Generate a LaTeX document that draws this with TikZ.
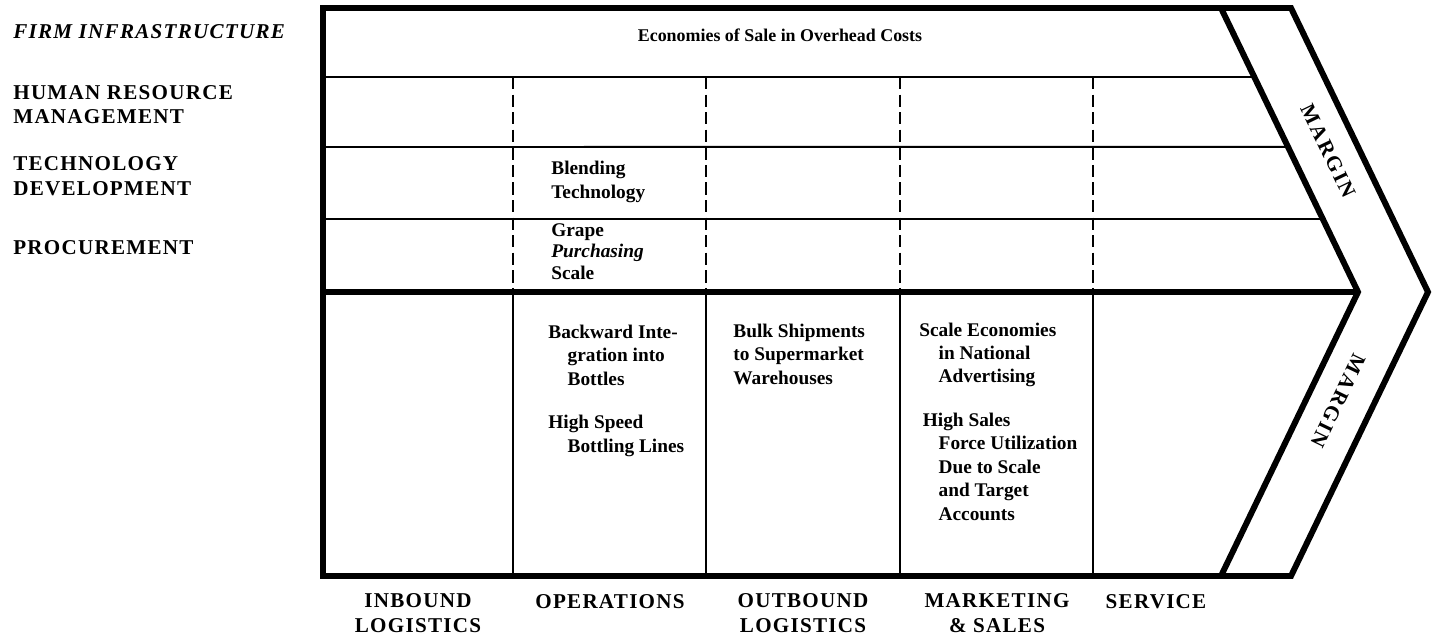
\documentclass[tikz,border=0pt]{standalone}
\usepackage{fontspec}
\setmainfont{Liberation Serif}
\newfontfamily\capsfont[LetterSpace=6]{Liberation Serif}
\newfontfamily\marginfont[LetterSpace=10]{Liberation Serif}
\usetikzlibrary{calc,positioning}
\tikzset{
  frame/.style={line width=3.4pt, line join=miter},  % outer chain outline
  row/.style={line width=1.1pt},                     % thin separators
  col/.style={line width=1.1pt, dash pattern=on 7pt off 3pt},
  act/.style={font=\capsfont\bfseries\fontsize{12}{14}\selectfont, inner sep=0pt},
  cell/.style={font=\bfseries\fontsize{11}{13.3}\selectfont, align=left, anchor=base west, inner sep=0pt},
  marg/.style={font=\marginfont\bfseries\fontsize{12}{14}\selectfont, inner sep=0pt}
}

\begin{document}
\begin{tikzpicture}[x=0.2mm, y=-0.2mm]
  \useasboundingbox (0,0) rectangle (1435,636);

  % corners of the chain
  \coordinate (tl) at (323,8);
  \coordinate (bl) at (323,576);
  \coordinate (ctop) at (1221,8);
  \coordinate (ctip) at (1358,292);
  \coordinate (cbot) at (1221,576);
  \coordinate (otop) at (1291,8);
  \coordinate (otip) at (1428,292);
  \coordinate (obot) at (1291,576);
  \coordinate (mid) at (323,292);

  % support activity rows
  \foreach \y/\f in {77/0.243, 147/0.489, 219/0.743}
    \draw[row] (323,\y) -- ($(ctop)!\f!(ctip)$);

  % column separators: dashed above, solid below
  \foreach \x in {513, 706, 900, 1093} {
    \draw[col] (\x,77) -- (\x,292);
    \draw[row] (\x,292) -- (\x,576);
  }

  % outline, chevron and the heavy middle line
  \draw[frame] (tl) -- (otop) -- (otip) -- (obot) -- (bl) -- cycle;
  \draw[frame] (ctop) -- (ctip) -- (cbot);
  \draw[frame] (mid) -- (ctip);

  % margin labels
  \node (M1) [marg, rotate=-64.25] at (1328,151) {MARGIN};
  \node (M2) [marg, rotate=-115.75] at (1338,401) {MARGIN};

  % left side: support activities (anchored on the last line)
  \node (FI) [act, anchor=base west] at (13,39) {\itshape FIRM INFRASTRUCTURE};
  \node (HRM) [act, anchor=base west, align=left] at (13,124) {HUMAN RESOURCE\\MANAGEMENT};
  \node (TD) [act, anchor=base west, align=left] at (13,195) {TECHNOLOGY\\DEVELOPMENT};
  \node (PR) [act, anchor=base west] at (13,254) {PROCUREMENT};

  % bottom: primary activities
  \node (IL) [act, anchor=base, align=center] at (418,632) {INBOUND\\LOGISTICS};
  \node (OP) [act, anchor=base] at (610,608) {OPERATIONS};
  \node (OL) [act, anchor=base, align=center] at (803,632) {OUTBOUND\\LOGISTICS};
  \node (MS) [act, anchor=base, align=center] at (997,632) {MARKETING\\\& SALES};
  \node (SV) [act, anchor=base] at (1156,608) {SERVICE};

  % cell entries
  \node (FI_cost) [cell, anchor=base, font=\bfseries\fontsize{10.2}{12}\selectfont] at (780,42)
    {Economies of Sale in Overhead Costs};
  \node (OP_tech) [cell] at (551,198) {Blending\\Technology};
  \node (OP_proc) [cell, font=\bfseries\fontsize{11}{12.2}\selectfont] at (551,279)
    {Grape\\\textit{Purchasing}\\Scale};
  \node (OP_ops) [cell] at (548,452)
    {Backward Inte-\\\hspace*{1em}gration into\\\hspace*{1em}Bottles\\[11.5pt]
     High Speed\\\hspace*{1em}Bottling Lines};
  \node (OL_ops) [cell] at (733,384) {Bulk Shipments\\to Supermarket\\Warehouses};
  \node (MS_ops) [cell] at (919,520)
    {Scale Economies\\\hspace*{1em}in National\\\hspace*{1em}Advertising\\[11.5pt]
     \hspace*{2pt}High Sales\\\hspace*{1em}Force Utilization\\\hspace*{1em}Due to Scale\\
     \hspace*{1em}and Target\\\hspace*{1em}Accounts};

\end{tikzpicture}
\end{document}
